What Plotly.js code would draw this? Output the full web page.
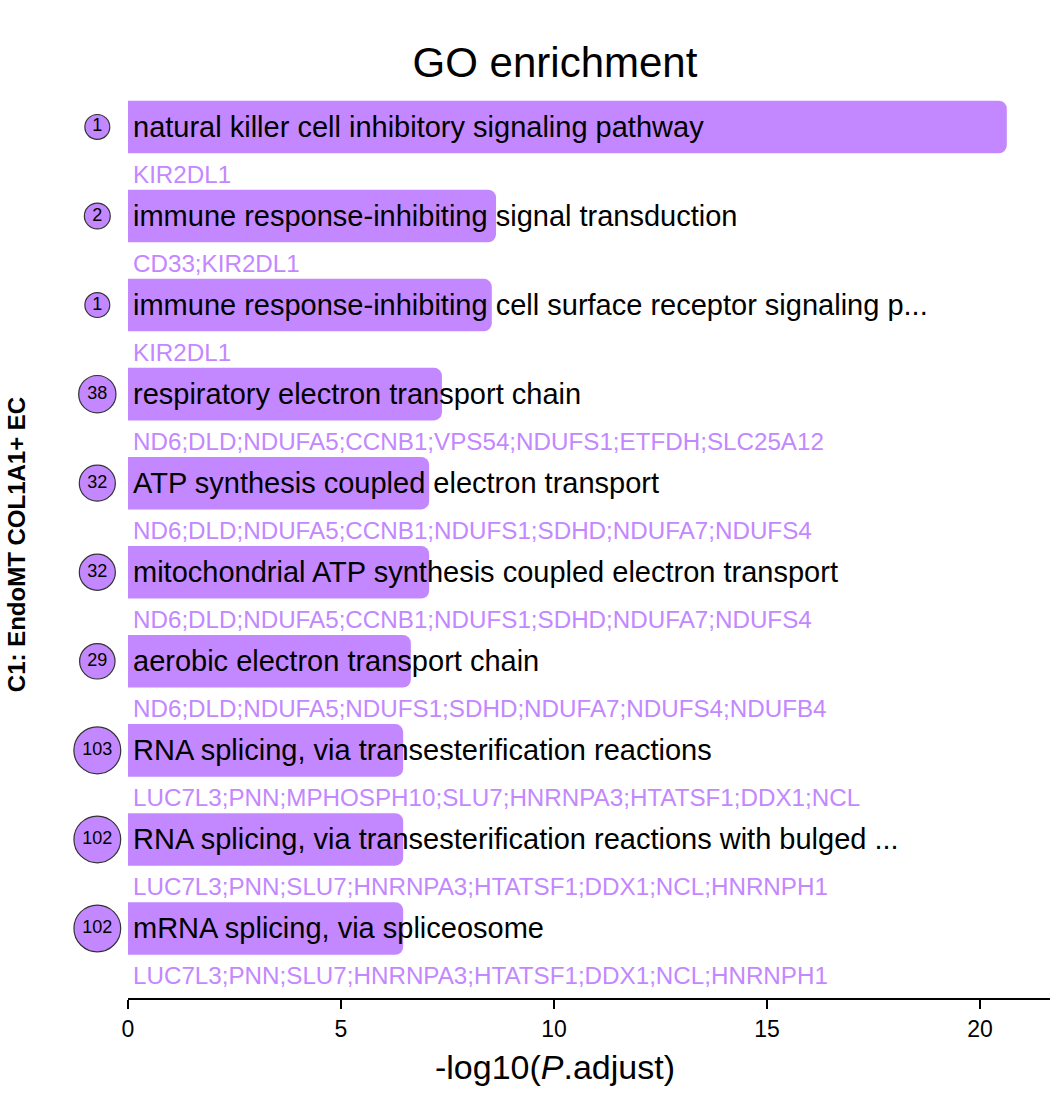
<!DOCTYPE html>
<html>
<head>
<meta charset="utf-8">
<script src="https://cdn.plot.ly/plotly-3.0.1.min.js"></script>
<style>html,body{margin:0;padding:0;background:#fff;}#chart{width:1064px;height:1104px;}</style>
</head>
<body>
<div id="chart"></div>
<script>
const terms = [
  "natural killer cell inhibitory signaling pathway",
  "immune response-inhibiting signal transduction",
  "immune response-inhibiting cell surface receptor signaling p...",
  "respiratory electron transport chain",
  "ATP synthesis coupled electron transport",
  "mitochondrial ATP synthesis coupled electron transport",
  "aerobic electron transport chain",
  "RNA splicing, via transesterification reactions",
  "RNA splicing, via transesterification reactions with bulged ...",
  "mRNA splicing, via spliceosome"
];
const neglogP = [20.63, 8.64, 8.54, 7.37, 7.07, 7.07, 6.64, 6.46, 6.46, 6.46];
const counts = [1, 2, 1, 38, 32, 32, 29, 103, 102, 102];
const genes = [
  "KIR2DL1",
  "CD33;KIR2DL1",
  "KIR2DL1",
  "ND6;DLD;NDUFA5;CCNB1;VPS54;NDUFS1;ETFDH;SLC25A12",
  "ND6;DLD;NDUFA5;CCNB1;NDUFS1;SDHD;NDUFA7;NDUFS4",
  "ND6;DLD;NDUFA5;CCNB1;NDUFS1;SDHD;NDUFA7;NDUFS4",
  "ND6;DLD;NDUFA5;NDUFS1;SDHD;NDUFA7;NDUFS4;NDUFB4",
  "LUC7L3;PNN;MPHOSPH10;SLU7;HNRNPA3;HTATSF1;DDX1;NCL",
  "LUC7L3;PNN;SLU7;HNRNPA3;HTATSF1;DDX1;NCL;HNRNPH1",
  "LUC7L3;PNN;SLU7;HNRNPA3;HTATSF1;DDX1;NCL;HNRNPH1"
];
const xTicks = [0, 5, 10, 15, 20];
const groupLabel = "C1: EndoMT COL1A1+ EC";

const FONT = "Liberation Sans, Arial, sans-serif";
const PURPLE = "#C387FF";
const n = terms.length;
const pos = terms.map((t, i) => n - i);
const X_MIN = -1.596, X_MAX = 21.644;
const CIRCLE_X = -0.72;

const bars = {
  type: "bar", orientation: "h",
  x: neglogP, y: pos, width: 0.59,
  marker: {color: PURPLE, cornerradius: 8, line: {width: 0}},
  hoverinfo: "skip", showlegend: false
};
const circles = {
  type: "scatter", mode: "markers+text",
  x: pos.map(() => CIRCLE_X), y: pos,
  text: counts.map(String),
  textposition: "middle center",
  textfont: {family: FONT, size: 18, color: "#000"},
  marker: {size: counts.map(c => 22.5 + 2.4 * Math.sqrt(c)), color: PURPLE, opacity: 1,
    line: {color: "#333", width: 1.2}},
  cliponaxis: false, hoverinfo: "skip", showlegend: false
};

const annotations = [];
terms.forEach((t, i) => {
  annotations.push({x: 0, y: pos[i], xref: "x", yref: "y", text: t, showarrow: false,
    xanchor: "left", yanchor: "middle", xshift: 3, font: {family: FONT, size: 29, color: "#000"}});
  annotations.push({x: 0, y: pos[i] - 0.53, xref: "x", yref: "y", text: genes[i], showarrow: false,
    xanchor: "left", yanchor: "middle", xshift: 3, font: {family: FONT, size: 24.2, color: PURPLE}});
});

const layout = {
  width: 1064, height: 1104,
  margin: {l: 60, r: 14, t: 90, b: 105},
  paper_bgcolor: "#fff", plot_bgcolor: "#fff",
  font: {family: FONT, color: "#000"},
  title: {text: "GO enrichment", font: {family: FONT, size: 42, color: "#000"},
    xref: "paper", x: 0.5, xanchor: "center", yref: "container", y: 1 - 62 / 1104, yanchor: "middle"},
  xaxis: {
    range: [X_MIN, X_MAX], showgrid: false, zeroline: false, showline: false,
    ticks: "outside", ticklen: 9, tickwidth: 2, tickcolor: "#000",
    tickvals: xTicks, ticktext: xTicks.map(String),
    tickfont: {family: FONT, size: 23, color: "#000"},
    title: {text: "-log10(<i>P</i>.adjust)", font: {family: FONT, size: 34, color: "#000"}, standoff: 14}
  },
  yaxis: {
    range: [0.208, 10.415], showgrid: false, zeroline: false, showline: false,
    showticklabels: false, ticks: "",
    title: {text: "<b>" + groupLabel + "</b>", font: {family: FONT, size: 24, color: "#000"}, standoff: 26}
  },
  shapes: [{type: "line", xref: "x", yref: "paper", x0: 0, x1: X_MAX, y0: 0, y1: 0,
    line: {color: "#000", width: 2}}],
  annotations: annotations,
  showlegend: false
};

Plotly.newPlot("chart", [bars, circles], layout, {staticPlot: true, displayModeBar: false});
</script>
</body>
</html>
